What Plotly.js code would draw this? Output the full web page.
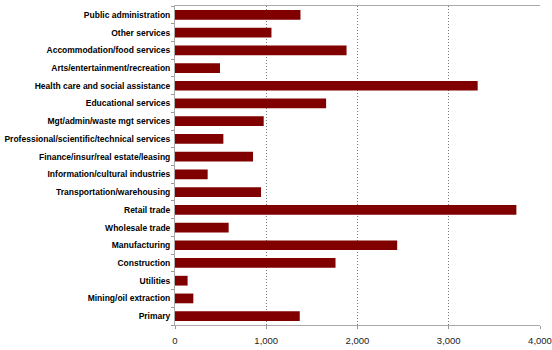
<!DOCTYPE html>
<html>
<head>
<meta charset="utf-8">
<script src="https://cdn.plot.ly/plotly-3.0.1.min.js"></script>
<style>html,body{margin:0;padding:0;background:#fff;}#chart{width:552px;height:350px;}</style>
</head>
<body>
<div id="chart"></div>
<script>
// Categories listed bottom to top
var categories = [
  "Primary",
  "Mining/oil extraction",
  "Utilities",
  "Construction",
  "Manufacturing",
  "Wholesale trade",
  "Retail trade",
  "Transportation/warehousing",
  "Information/cultural industries",
  "Finance/insur/real estate/leasing",
  "Professional/scientific/technical services",
  "Mgt/admin/waste mgt services",
  "Educational services",
  "Health care and social assistance",
  "Arts/entertainment/recreation",
  "Accommodation/food services",
  "Other services",
  "Public administration"
];
var values = [1367, 201, 138, 1759, 2435, 588, 3741, 943, 358, 855, 530, 972, 1656, 3317, 493, 1880, 1057, 1375];
var xTicks = [0, 1000, 2000, 3000, 4000];

var trace = {
  type: "bar",
  orientation: "h",
  y: categories,
  x: values,
  marker: {color: "#800000", line: {width: 0}},
  hoverinfo: "x+y"
};

var layout = {
  width: 552,
  height: 350,
  margin: {l: 175, r: 12, t: 6, b: 25},
  paper_bgcolor: "#ffffff",
  plot_bgcolor: "#ffffff",
  bargap: 0.45,
  showlegend: false,
  font: {family: "Liberation Sans, Arial, sans-serif", color: "#000"},
  xaxis: {
    range: [0, 4000],
    tickvals: xTicks,
    tickformat: ",",
    showgrid: true,
    gridcolor: "#777777",
    griddash: "1px,2px",
    gridwidth: 1,
    showline: true,
    linecolor: "#aaaaaa",
    linewidth: 1,
    mirror: true,
    ticks: "outside",
    ticklen: 3,
    tickcolor: "#999999",
    ticklabelstandoff: 4,
    zeroline: false,
    automargin: false,
    tickfont: {size: 9.5, color: "#222", family: "Liberation Sans, Arial, sans-serif"},
    fixedrange: true
  },
  yaxis: {
    type: "category",
    categoryorder: "array",
    categoryarray: categories,
    showgrid: false,
    showline: true,
    linecolor: "#aaaaaa",
    linewidth: 1,
    ticks: "outside",
    tickson: "boundaries",
    ticklen: 3,
    tickcolor: "#999999",
    ticklabelstandoff: 2,
    zeroline: false,
    automargin: false,
    tickfont: {size: 8.5, color: "#000", family: "Liberation Sans, Arial, sans-serif", weight: "bold"},
    fixedrange: true
  }
};

Plotly.newPlot("chart", [trace], layout, {displayModeBar: false, staticPlot: true});
</script>
</body>
</html>
